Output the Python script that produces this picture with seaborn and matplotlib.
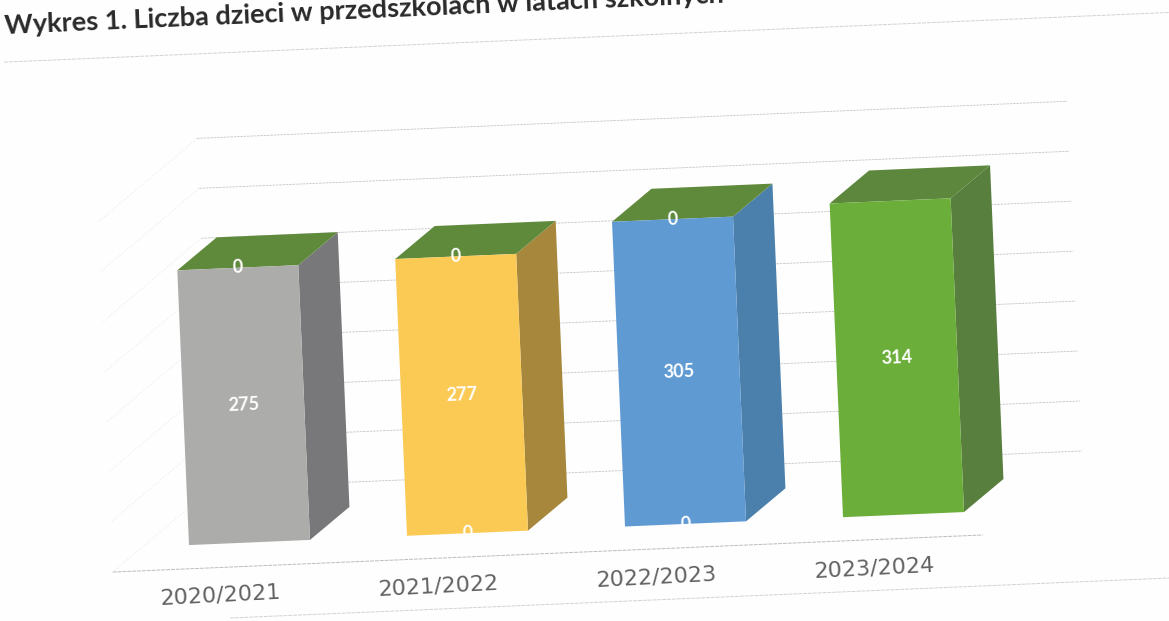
import numpy as np
import pandas as pd
import matplotlib
matplotlib.use("Agg")
import matplotlib.pyplot as plt
from matplotlib.patches import Polygon
from matplotlib.transforms import Affine2D
import seaborn as sns

# ---- data ----
school_years = ["2020/2021", "2021/2022", "2022/2023", "2023/2024"]
children = [275, 277, 305, 314]
top_zero_labels = [0, 0, 0, None]
base_zero_labels = [None, 0, 0, None]
grid_values = [0, 50, 100, 150, 200, 250, 300, 350]
title_text = "Wykres 1. Liczba dzieci w przedszkolach w latach szkolnych"

# ---- style ----
front_colors = ["#acacaa", "#fbca55", "#5f9ad3", "#6cae3a"]
side_colors = ["#78787a", "#a6873c", "#4a80ab", "#587f3e"]
cap_colors = ["#5f8a3b", "#5f8a3b", "#5f8a3b", "#5c873c"]
W, H = 1169, 621
TILT = 2.44
X_UNIT = 218.2
ORIGIN_PX = (249.5, H - 542.5)
BAR_DX, BAR_DY = 40.8 / X_UNIT, 31.3
WALL_X0, WALL_X1, WALL_Y = -0.161, 3.83, 56
FLOOR_DX, FLOOR_DY = -0.471, -79.7

sns.set_theme(style="white")
plt.rcParams["font.family"] = ["Lato", "DejaVu Sans"]

fig = plt.figure(figsize=(W / 100, H / 100), dpi=100, facecolor="#fefefe")
ax = fig.add_axes([0, 0, 1, 1])
ax.set_facecolor("#fefefe")

df = pd.DataFrame({"year": school_years, "children": children})
sns.barplot(data=df, x="year", y="children", hue="year", order=school_years,
            palette=front_colors, width=0.555, dodge=False, legend=False,
            saturation=1, ax=ax, zorder=5, linewidth=0)

ax.set_xlim(-ORIGIN_PX[0] / X_UNIT, (W - ORIGIN_PX[0]) / X_UNIT)
ax.set_ylim(-ORIGIN_PX[1], H - ORIGIN_PX[1])
ax.axis("off")

# whole chart is slightly tilted, as on the scanned page
rot = ax.transData + Affine2D().rotate_deg_around(ORIGIN_PX[0], ORIGIN_PX[1], TILT)

for patch in ax.patches:
    patch.set_transform(rot)
    patch.set_clip_on(False)

# back wall, left wall, floor and frame lines
grid_kw = dict(transform=rot, clip_on=False, zorder=1)
for v in grid_values:
    ax.plot([WALL_X0, WALL_X1], [WALL_Y + v, WALL_Y + v], color="#c6c6c6",
            lw=0.6, ls=(0, (3, 1)), **grid_kw)
    ax.plot([WALL_X0, WALL_X0 + FLOOR_DX], [WALL_Y + v, WALL_Y + FLOOR_DY + v],
            color="#ececec", lw=0.6, ls=(0, (2, 2)), **grid_kw)
ax.plot([WALL_X0 + FLOOR_DX, WALL_X1 + FLOOR_DX], [WALL_Y + FLOOR_DY] * 2,
        color="#bcbcbc", lw=0.7, ls=(0, (4, 1)), **grid_kw)
ax.plot([-1.03, 4.4], [490.4, 490.4], color="#d2d2d2", lw=0.7, ls=(0, (4, 1)), **grid_kw)
ax.plot([-0.104, 4.4], [-74.6, -74.6], color="#d2d2d2", lw=0.7, ls=(0, (4, 1)), **grid_kw)

# 3D sides and caps built from the bars seaborn drew
for patch, side_c, cap_c in zip(ax.patches, side_colors, cap_colors):
    x0, x1, h = patch.get_x(), patch.get_x() + patch.get_width(), patch.get_height()
    ax.add_patch(Polygon([(x1, 0), (x1 + BAR_DX, BAR_DY), (x1 + BAR_DX, h + BAR_DY), (x1, h)],
                         closed=True, fc=side_c, ec="none", transform=rot, zorder=4, clip_on=False))
    ax.add_patch(Polygon([(x0, h), (x1, h), (x1 + BAR_DX, h + BAR_DY), (x0 + BAR_DX, h + BAR_DY)],
                         closed=True, fc=cap_c, ec="none", transform=rot, zorder=4, clip_on=False))

# value labels
label_kw = dict(color="white", ha="center", va="center", fontsize=13, fontweight="bold",
                rotation=TILT, rotation_mode="anchor", transform=rot, zorder=7, clip_on=False)
for i, v in enumerate(children):
    ax.text(i, v / 2, str(v), **label_kw)
for i, (t, b) in enumerate(zip(top_zero_labels, base_zero_labels)):
    if t is not None:
        ax.text(i, children[i], str(t), **label_kw)
    if b is not None:
        ax.text(i, 0, str(b), **label_kw)

# category labels
for i, name in enumerate(school_years):
    ax.text(i - 0.146, -52, name, color="#626262", ha="center", va="center",
            fontsize=16, family=["DejaVu Sans"], rotation=3.0, rotation_mode="anchor",
            transform=rot, zorder=6, clip_on=False)

fig.text(5 / W, 1 - 34 / H, title_text, color="#2a2a2a", ha="left", va="baseline",
         fontsize=19.5, fontweight="bold", rotation=2.5, rotation_mode="anchor")

fig.savefig("out.png", dpi=100, facecolor=fig.get_facecolor())
